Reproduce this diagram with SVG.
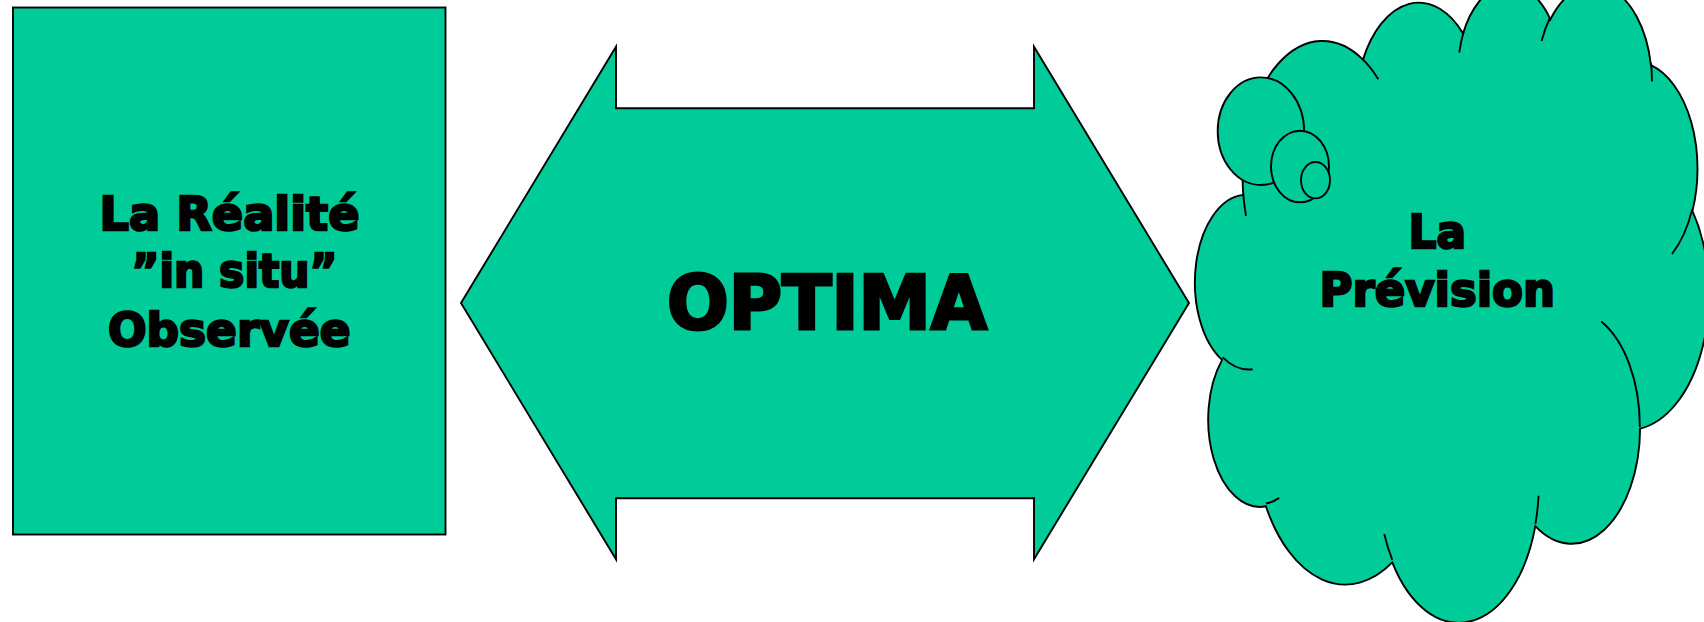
<svg xmlns="http://www.w3.org/2000/svg" width="1704" height="622" viewBox="0 0 1704 622">
<style>
.shape{fill:#00CC99;stroke:#000;stroke-width:1.9;stroke-linejoin:miter}
.line{fill:none;stroke:#000;stroke-width:1.9}
.lbl{font-family:"DejaVu Sans","Liberation Sans",Arial,sans-serif;font-weight:bold;fill:#000;stroke:#000;stroke-width:2.4;stroke-linejoin:miter}
.big{stroke-width:3.2}
</style>
<rect width="1704" height="622" fill="#fff"/>
<g id="node-realite">
<rect class="shape" x="13" y="7.5" width="432.5" height="527" stroke-width="2.2"/>
<text class="lbl" font-size="46" x="99.5" y="229.5" textLength="260" lengthAdjust="spacingAndGlyphs">La Réalité</text>
<text class="lbl" font-size="46" x="131.5" y="286.5" textLength="206" lengthAdjust="spacingAndGlyphs">”in situ”</text>
<text class="lbl" font-size="46" x="108" y="346" textLength="242.5" lengthAdjust="spacingAndGlyphs">Observée</text>
</g>
<g id="node-optima">
<polygon class="shape" points="461,303 616,46.7 616,108.3 1034,108.3 1034,46.7 1189,303 1034,559.3 1034,498.3 616,498.3 616,559.3"/>
<text class="lbl big" font-size="74" x="667" y="329" textLength="320" lengthAdjust="spacingAndGlyphs">OPTIMA</text>
</g>
<g id="node-prevision">
<path class="shape" d="M1243.3,194.9 A79.98,135.6 0 0 1 1363.0,59.6 A63.16,107.3 0 0 1 1463.1,33.5 A51.70,87.75 0 0 1 1550.4,19.4 A57.53,97.34 0 0 1 1650.9,65.1 A63.16,107.35 0 0 1 1692.4,211.0 A80.24,136.09 0 0 1 1640.1,428.6 A68.52,116.12 0 0 1 1535.3,526.2 A79.97,136.01 0 0 1 1392.3,562.4 A91.44,155.61 0 0 1 1265.9,506.3 A51.64,87.35 0 0 1 1222.1,359.9 A51.46,87.75 0 0 1 1243.3,194.9 Z"/>
<path class="line" d="M1252.7,369.2 A51.46,87.75 0 0 1 1222.7,357.4 M1279.2,497.9 A51.64,87.35 0 0 1 1266.0,503.5 M1392.3,559.8 A79.97,136.01 0 0 1 1384.3,534.1 M1538.5,495.7 A79.97,136.01 0 0 1 1535.4,523.9 M1601.3,321.6 A68.52,116.12 0 0 1 1639.8,426.9 M1692.2,209.4 A63.16,107.35 0 0 1 1672.0,254.0 M1651.0,62.9 A57.53,97.34 0 0 1 1651.9,81.5 M1541.5,41.1 A57.53,97.34 0 0 1 1550.3,17.3 M1459.3,52.5 A51.70,87.75 0 0 1 1463.6,32.0 M1362.9,59.4 A79.98,135.6 0 0 1 1378.3,79.3 M1246.0,215.8 A79.98,135.6 0 0 1 1243.3,194.9"/>
<ellipse class="shape" cx="1260.9" cy="131.2" rx="43.2" ry="53.8"/>
<ellipse class="shape" cx="1300" cy="166.5" rx="29" ry="35.8"/>
<ellipse class="shape" cx="1315.5" cy="180.2" rx="14.5" ry="18.2"/>
<text class="lbl" font-size="46" x="1408.5" y="247.8" textLength="57.5" lengthAdjust="spacingAndGlyphs">La</text>
<text class="lbl" font-size="46" x="1319.5" y="305.5" textLength="235.5" lengthAdjust="spacingAndGlyphs">Prévision</text>
</g>
<g id="connectors"/>
</svg>
